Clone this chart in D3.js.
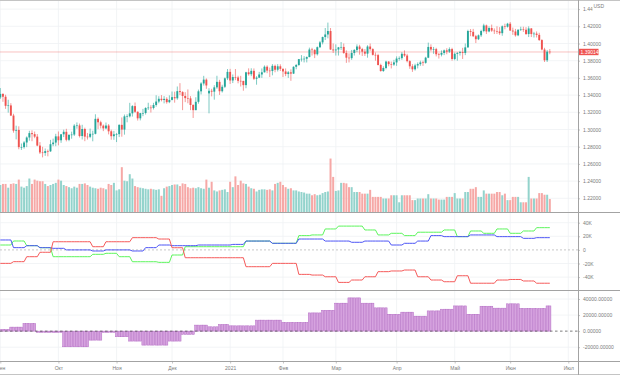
<!DOCTYPE html>
<html><head><meta charset="utf-8">
<script src="https://cdn.jsdelivr.net/npm/d3@7"></script>
<style>html,body{margin:0;padding:0;background:#fff;}svg{display:block;font-family:"Liberation Sans",Arial,sans-serif;}</style>
</head><body><svg id="c" width="620" height="375"></svg>
<script>
// ---- DATA (GBP/USD daily, Sep 1 2020 .. Jun 22 2021) ----
const opens=[1.3373,1.3414,1.3381,1.3275,1.3280,1.3162,1.2986,1.2995,1.2795,1.2795,1.2849,1.2907,1.2958,1.2946,1.2917,1.2813,1.2733,1.2727,1.2749,1.2746,1.2829,1.2848,
1.2920,1.2875,1.2944,1.2973,1.2880,1.2937,1.2941,1.3045,1.3047,1.2924,1.3006,1.2917,1.2915,1.2950,1.2950,1.3124,1.3084,1.3045,1.3013,1.3046,1.2979,1.2922,
1.2944,1.2946,1.3054,1.2999,1.3153,1.3153,1.3188,1.3272,1.3206,1.3130,1.3190,1.3192,1.3250,1.3255,1.3250,1.3285,1.3325,1.3357,1.3343,1.3356,1.3318,
1.3344,1.3376,1.3363,1.3446,1.3435,1.3390,1.3365,1.3362,1.3285,1.3225,1.3322,1.3444,1.3535,1.3580,1.3420,1.3450,1.3440,1.3490,1.3554,1.3445,1.3497,1.3595,
1.3670,1.3570,1.3610,1.3605,1.3566,1.3565,1.3516,1.3665,1.3643,1.3682,1.3590,1.3603,1.3640,1.3665,1.3730,1.3685,1.3680,1.3740,1.3695,1.3735,
1.3705,1.3675,1.3645,1.3665,1.3650,1.3729,1.3750,1.3818,1.3822,1.3823,1.3842,1.3930,1.3925,1.3875,1.3957,1.4013,1.4075,1.4105,1.4145,1.3930,
1.3920,1.3930,1.3955,1.3960,1.3890,1.3835,1.3830,1.3890,1.3925,1.3965,1.3935,1.3905,1.3882,1.3965,1.3935,1.3868,1.3865,1.3750,1.3680,1.3715,1.3790,1.3760,1.3755,
1.3780,1.3825,1.3830,1.3880,1.3860,1.3795,1.3735,1.3700,1.3745,1.3760,1.3780,1.3775,1.3835,1.3960,1.3930,1.3935,1.3875,1.3870,1.3890,1.3920,1.3905,1.3935,
1.3820,1.3880,1.3890,1.3900,1.3890,1.3955,1.4145,1.4135,1.4085,1.4050,1.4095,1.4145,1.4210,1.4140,1.4180,1.4150,1.4145,1.4140,1.4120,1.4200,1.4195,
1.4230,1.4150,1.4140,1.4095,1.4160,1.4165,1.4160,1.4110,1.4175,1.4110,1.4115,1.4100,1.4040,1.3930,1.3805,1.3905];
const highs=[1.3482,1.3420,1.3404,1.3346,1.3306,1.3183,1.3044,1.3037,1.2837,1.2865,1.2920,1.2985,1.2990,1.2976,1.2947,1.2853,1.2799,1.2779,1.2767,1.2879,1.2894,1.2950,
1.2977,1.2947,1.2998,1.3008,1.2946,1.2975,1.3062,1.3082,1.3069,1.3055,1.3021,1.2960,1.3011,1.2986,1.3177,1.3140,1.3102,1.3058,1.3081,1.3063,1.2998,1.2984,
1.2960,1.3060,1.3140,1.3174,1.3177,1.3310,1.3283,1.3314,1.3210,1.3193,1.3240,1.3259,1.3311,1.3283,1.3310,1.3398,1.3387,1.3400,1.3388,1.3375,1.3397,
1.3442,1.3440,1.3500,1.3539,1.3446,1.3434,1.3466,1.3388,1.3294,1.3375,1.3464,1.3550,1.3624,1.3594,1.3480,1.3473,1.3515,1.3625,1.3578,1.3520,1.3605,1.3703,
1.3705,1.3640,1.3703,1.3625,1.3624,1.3566,1.3671,1.3711,1.3712,1.3710,1.3620,1.3670,1.3710,1.3745,1.3746,1.3720,1.3760,1.3755,1.3760,1.3758,
1.3711,1.3710,1.3680,1.3700,1.3735,1.3762,1.3820,1.3865,1.3853,1.3850,1.3952,1.3950,1.3935,1.3965,1.4030,1.4080,1.4180,1.4243,1.4180,1.4000,
1.3990,1.3960,1.4017,1.4000,1.3920,1.3885,1.3925,1.3935,1.3990,1.3985,1.3950,1.3935,1.3980,1.4000,1.3945,1.3895,1.3880,1.3765,1.3735,1.3800,1.3795,1.3790,1.3810,
1.3850,1.3850,1.3900,1.3920,1.3880,1.3805,1.3760,1.3765,1.3780,1.3800,1.3800,1.3845,1.4010,1.3990,1.3960,1.3950,1.3890,1.3920,1.3930,1.3945,1.3955,1.3950,
1.3895,1.3900,1.3915,1.3950,1.4000,1.4160,1.4168,1.4170,1.4100,1.4105,1.4160,1.4230,1.4220,1.4200,1.4220,1.4175,1.4200,1.4190,1.4210,1.4230,1.4240,
1.4250,1.4185,1.4170,1.4165,1.4195,1.4195,1.4190,1.4200,1.4180,1.4135,1.4140,1.4125,1.4050,1.3950,1.3925,1.3935];
const lows=[1.3355,1.3322,1.3240,1.3196,1.3156,1.2963,1.2885,1.2770,1.2762,1.2777,1.2795,1.2870,1.2864,1.2899,1.2805,1.2715,1.2676,1.2694,1.2688,1.2740,1.2806,1.2806,
1.2816,1.2845,1.2912,1.2862,1.2864,1.2893,1.2924,1.3009,1.2907,1.2884,1.2864,1.2883,1.2899,1.2863,1.2943,1.3004,1.3012,1.2981,1.3003,1.2943,1.2881,1.2880,
1.2854,1.2912,1.2916,1.2940,1.3084,1.3140,1.3150,1.3192,1.3104,1.3106,1.3155,1.3174,1.3227,1.3197,1.3233,1.3265,1.3305,1.3327,1.3304,1.3300,1.3306,
1.3339,1.3312,1.3346,1.3400,1.3225,1.3318,1.3305,1.3225,1.3134,1.3224,1.3300,1.3408,1.3511,1.3473,1.3188,1.3385,1.3347,1.3473,1.3402,1.3430,1.3482,1.3575,
1.3530,1.3540,1.3574,1.3537,1.3500,1.3451,1.3480,1.3626,1.3620,1.3575,1.3521,1.3598,1.3600,1.3663,1.3655,1.3610,1.3630,1.3665,1.3675,1.3680,
1.3610,1.3620,1.3600,1.3566,1.3645,1.3700,1.3740,1.3790,1.3780,1.3780,1.3840,1.3860,1.3830,1.3860,1.3947,1.3990,1.4040,1.4060,1.3925,1.3890,
1.3860,1.3860,1.3925,1.3880,1.3775,1.3780,1.3810,1.3860,1.3900,1.3870,1.3855,1.3855,1.3835,1.3915,1.3860,1.3800,1.3745,1.3672,1.3670,1.3700,1.3735,1.3710,1.3740,
1.3740,1.3800,1.3810,1.3845,1.3780,1.3705,1.3670,1.3685,1.3710,1.3740,1.3740,1.3765,1.3830,1.3910,1.3880,1.3850,1.3825,1.3850,1.3865,1.3875,1.3890,1.3800,
1.3805,1.3800,1.3860,1.3820,1.3865,1.3950,1.4085,1.4075,1.4005,1.4040,1.4075,1.4130,1.4110,1.4130,1.4135,1.4110,1.4110,1.4100,1.4090,1.4165,1.4185,
1.4150,1.4100,1.4080,1.4085,1.4145,1.4135,1.4100,1.4075,1.4075,1.4070,1.4070,1.4030,1.3920,1.3785,1.3785,1.3875];
const closes=[1.3414,1.3381,1.3275,1.3280,1.3162,1.2986,1.2995,1.2795,1.2795,1.2849,1.2907,1.2958,1.2946,1.2917,1.2813,1.2733,1.2727,1.2749,1.2746,1.2829,1.2848,1.2920,
1.2875,1.2944,1.2973,1.2880,1.2937,1.2941,1.3045,1.3047,1.2924,1.3006,1.2917,1.2915,1.2950,1.2950,1.3124,1.3084,1.3045,1.3013,1.3046,1.2979,1.2922,1.2944,
1.2946,1.3054,1.2999,1.3153,1.3153,1.3188,1.3272,1.3206,1.3130,1.3190,1.3192,1.3250,1.3255,1.3250,1.3285,1.3325,1.3357,1.3343,1.3356,1.3318,1.3344,
1.3376,1.3363,1.3446,1.3435,1.3390,1.3365,1.3362,1.3285,1.3225,1.3322,1.3444,1.3535,1.3580,1.3512,1.3450,1.3440,1.3490,1.3554,1.3445,1.3497,1.3595,1.3670,
1.3570,1.3610,1.3605,1.3566,1.3565,1.3516,1.3665,1.3643,1.3682,1.3590,1.3603,1.3640,1.3665,1.3730,1.3685,1.3680,1.3740,1.3695,1.3735,1.3705,
1.3675,1.3645,1.3665,1.3650,1.3729,1.3750,1.3818,1.3822,1.3823,1.3842,1.3930,1.3925,1.3875,1.3957,1.4013,1.4075,1.4105,1.4145,1.3930,1.3920,
1.3930,1.3955,1.3960,1.3890,1.3835,1.3830,1.3890,1.3925,1.3965,1.3935,1.3905,1.3882,1.3965,1.3935,1.3868,1.3865,1.3750,1.3680,1.3715,1.3790,1.3760,1.3755,1.3780,
1.3825,1.3830,1.3880,1.3860,1.3795,1.3735,1.3700,1.3745,1.3760,1.3780,1.3775,1.3835,1.3960,1.3930,1.3935,1.3875,1.3870,1.3890,1.3920,1.3905,1.3935,1.3820,
1.3880,1.3890,1.3900,1.3890,1.3955,1.4145,1.4135,1.4085,1.4050,1.4095,1.4145,1.4210,1.4140,1.4180,1.4150,1.4145,1.4140,1.4120,1.4200,1.4195,1.4230,
1.4150,1.4140,1.4095,1.4160,1.4165,1.4160,1.4110,1.4175,1.4110,1.4115,1.4100,1.4040,1.3930,1.3805,1.3905,1.39014];
const volumes=[50,52,52,45,52,53,52,60,47,45,48,62,52,60,58,57,57,52,48,50,52,54,
60,58,50,48,46,44,47,45,52,52,53,50,47,45,44,43,45,44,42,52,50,54,
40,42,83,58,57,70,62,48,46,45,44,43,42,43,42,41,42,30,44,47,48,
50,51,51,48,53,52,46,44,45,44,46,44,43,60,45,56,40,38,40,41,42,37,
56,46,66,50,58,53,52,47,44,43,38,41,42,42,41,42,40,52,54,56,
50,46,43,44,40,40,38,37,36,34,34,31,33,31,32,35,37,38,99,65,
39,40,54,54,53,46,46,37,37,37,34,34,34,41,28,28,28,28,25,25,25,31,31,
31,18,31,31,31,31,22,22,25,25,25,25,33,25,25,25,23,23,23,28,28,28,
35,25,25,25,37,37,43,43,46,28,28,40,34,34,34,34,37,37,31,34,22,
22,28,28,28,18,18,18,65,25,25,25,35,35,32,32,24];
const lastPrice=1.39014;
// weekly COT positions (thousands of contracts), one per week from Sep 1 2020
const cotGreen=[7.2,13.1,6.2,3.2,-10,-10,-10,-6.5,-5,-10,-17.4,-17.4,-18.3,-7.5,4.7,4.7,4.7,4.7,4.7,13,13,9.7,9.7,21,22,30.8,35,35,29.3,22,24.4,21,26,26,29.3,19.5,27.8,24.4,30.8,24.4,27.8,32.7,32.7];
const cotBlue=[14.6,3.3,6.2,3.3,2.3,0,0,-1.6,0,0,-1.6,3.3,7.2,6.2,6.2,7.2,7.2,7.2,8.1,13,13,9.7,9.7,16,16,13,13,11.2,13,13,7.2,9.7,13,21,19.5,19.5,22,22,19.5,19.5,17,18,18];
const cotRed=[-19.8,-17.3,-10,-3.5,12,12,12,4.7,12,12,18,18,16,3.2,-11.5,-11.5,-11.5,-11.5,-11.5,-24.7,-24.7,-19.8,-19.8,-36,-37,-39.5,-47.8,-44.3,-39.5,-32,-31,-29.6,-39.5,-44.3,-46.8,-38,-49,-49,-44.3,-43.5,-45.7,-49,-49];
// weekly net position histogram (contracts)
const netHist=[2100,5000,9500,-1600,-1600,-19500,-19500,-11200,-1600,-7000,-12400,-17400,-17400,-12400,-4100,7500,5400,8300,6600,6600,13700,13700,10800,10800,22700,26000,34800,41400,34800,29000,21000,23600,18600,25200,27300,31400,21000,31000,28600,34000,28200,28200,31400];
const monthLabels=["Сен","Окт","Ноя","Дек","2021","Фев","Мар","Апр","Май","Июн","Июл"];
const monthStartIdx=[0,22,44,65,87,107,127,150,172,193,215];
const priceTicks=[1.22,1.24,1.26,1.28,1.30,1.32,1.34,1.36,1.38,1.40,1.42,1.44];
const cotTicks=[-40,-20,0,20,40];
const histTicks=[-20000,0,20000,40000];

// ---- calendar of trading days ----
const holidays=["2020-12-25","2021-01-01"];
const dates=[];
for(let d=new Date(Date.UTC(2020,8,1)); d<=new Date(Date.UTC(2021,5,22)); d.setUTCDate(d.getUTCDate()+1)){
  const w=d.getUTCDay(); if(w===0||w===6) continue;
  if(holidays.includes(d.toISOString().slice(0,10))) continue;
  dates.push(new Date(d));
}
const DAY=864e5, t0=Date.UTC(2020,8,1), t0m=Date.UTC(2020,7,31);
const bars=dates.map((d,i)=>({i,o:opens[i],h:highs[i],l:lows[i],c:closes[i],v:volumes[i],
  wl:Math.floor((d-t0)/(7*DAY)), wh:Math.floor((d-t0m)/(7*DAY))}));

// ---- scales ----
const svg=d3.select("#c");
const plotR=578;
const x=d3.scaleLinear().domain([0,215]).range([0.3,568.3]);
const yP=d3.scaleLinear().domain([1.22,1.44]).range([198.3,9.1]);
const yV=d3.scaleLinear().domain([0,100]).range([212,158]);
const yC=d3.scaleLinear().domain([-40,40]).range([277.1,222.7]);
const yH=d3.scaleLinear().domain([-20000,40000]).range([347.2,299]);
const grid="#eff1f4", txt="#7b7b7b", sep="#a3a3a3";

const defs=svg.append("defs");
defs.append("clipPath").attr("id","cp").append("rect").attr("x",0).attr("y",0).attr("width",plotR).attr("height",212);
defs.append("clipPath").attr("id","cc").append("rect").attr("x",0).attr("y",212).attr("width",plotR).attr("height",78);
defs.append("clipPath").attr("id","ch").append("rect").attr("x",0).attr("y",290).attr("width",plotR).attr("height",72);

// grid
const g=svg.append("g");
g.selectAll(".vg").data(monthStartIdx).join("line").attr("x1",d=>x(d)).attr("x2",d=>x(d)).attr("y1",0).attr("y2",362).attr("stroke",grid).attr("stroke-width",0.8);
g.selectAll(".hp").data(priceTicks).join("line").attr("x1",0).attr("x2",plotR).attr("y1",d=>yP(d)).attr("y2",d=>yP(d)).attr("stroke",grid).attr("stroke-width",0.8);
g.selectAll(".hc").data(cotTicks.filter(d=>d!==0)).join("line").attr("x1",0).attr("x2",plotR).attr("y1",d=>yC(d)).attr("y2",d=>yC(d)).attr("stroke",grid).attr("stroke-width",0.8);
g.selectAll(".hh").data(histTicks.filter(d=>d!==0)).join("line").attr("x1",0).attr("x2",plotR).attr("y1",d=>yH(d)).attr("y2",d=>yH(d)).attr("stroke",grid).attr("stroke-width",0.8);

// volume
const pg=svg.append("g").attr("clip-path","url(#cp)");
pg.selectAll(".vol").data(bars).join("rect")
  .attr("x",d=>x(d.i)-1.0).attr("width",2.0)
  .attr("y",d=>yV(d.v)).attr("height",d=>yV(0)-yV(d.v))
  .attr("fill",d=>d.c>=d.o?"#93d3cc":"#f6a8a6");
// last price line
pg.append("line").attr("x1",0).attr("x2",plotR).attr("y1",yP(lastPrice)).attr("y2",yP(lastPrice))
  .attr("stroke","#ef5350").attr("stroke-opacity",0.5).attr("stroke-width",0.7);
// candles
const cg=pg.selectAll(".cd").data(bars).join("g");
cg.append("line").attr("x1",d=>x(d.i)).attr("x2",d=>x(d.i)).attr("y1",d=>yP(d.h)).attr("y2",d=>yP(d.l))
  .attr("stroke",d=>d.c>=d.o?"#26a69a":"#ef5350").attr("stroke-width",0.6);
cg.append("rect").attr("x",d=>x(d.i)-0.95).attr("width",1.9)
  .attr("y",d=>Math.min(yP(d.o),yP(d.c))).attr("height",d=>Math.max(0.6,Math.abs(yP(d.o)-yP(d.c))))
  .attr("fill",d=>d.c>=d.o?"#26a69a":"#ef5350");

// COT lines
const lg=svg.append("g").attr("clip-path","url(#cc)");
lg.append("line").attr("x1",0).attr("x2",plotR).attr("y1",yC(0)).attr("y2",yC(0)).attr("stroke","#b0b0b0").attr("stroke-width",0.7).attr("stroke-dasharray","2,2");
[[cotGreen,"#5cf55c"],[cotBlue,"#4d55f5"],[cotRed,"#f55a5a"]].forEach(([arr,col])=>{
  const ln=d3.line().x(d=>x(d.i)).y(d=>yC(arr[d.wl]));
  lg.append("path").datum(bars).attr("d",ln).attr("fill","none").attr("stroke",col).attr("stroke-width",1);
});

// histogram
const hg=svg.append("g").attr("clip-path","url(#ch)");
hg.selectAll(".hb").data(bars).join("rect")
  .attr("x",d=>x(d.i)-1.1).attr("width",2.2)
  .attr("y",d=>Math.min(yH(0),yH(netHist[d.wh]))).attr("height",d=>Math.abs(yH(netHist[d.wh])-yH(0)))
  .attr("fill","#d6a3df").attr("stroke","#b46cc4").attr("stroke-width",0.5);
hg.append("line").attr("x1",0).attr("x2",plotR).attr("y1",yH(0)).attr("y2",yH(0)).attr("stroke","#444").attr("stroke-width",0.7).attr("stroke-dasharray","2.5,2.5");

// separators / frame
const fr=svg.append("g");
[0.5,374.5].forEach(y=>fr.append("line").attr("x1",0).attr("x2",620).attr("y1",y).attr("y2",y).attr("stroke","#c4c4c4").attr("stroke-width",1));
[212.5,290.5,361.5].forEach(y=>fr.append("line").attr("x1",0).attr("x2",620).attr("y1",y).attr("y2",y).attr("stroke",sep).attr("stroke-width",1));
fr.append("line").attr("x1",plotR+0.5).attr("x2",plotR+0.5).attr("y1",0).attr("y2",375).attr("stroke",sep).attr("stroke-width",1);

// axes
function styleAxis(sel){
  sel.select(".domain").remove();
  sel.selectAll(".tick line").attr("stroke","#a0a0a0").attr("stroke-width",0.6);
  sel.selectAll(".tick text").attr("fill",txt).attr("font-size","5px").attr("font-family","Liberation Sans, Arial, sans-serif");
}
defs.append("clipPath").attr("id","cu").append("rect").attr("x",578).attr("y",0).attr("width",14.6).attr("height",13);
const pAx=svg.append("g").attr("transform",`translate(${plotR},0)`)
  .call(d3.axisRight(yP).tickValues(priceTicks).tickFormat(d=>d.toFixed(5)).tickSize(2).tickPadding(3)).call(styleAxis);
// top price label is partly hidden by the currency badge
pAx.selectAll(".tick").filter(d=>d===1.44).select("text").attr("clip-path","url(#cuLocal)");
pAx.append("clipPath").attr("id","cuLocal").append("rect").attr("x",0).attr("y",-10).attr("width",14.6).attr("height",20);
svg.append("g").attr("transform",`translate(${plotR},0)`)
  .call(d3.axisRight(yC).tickValues(cotTicks).tickFormat(d=>d===0?"0":d+"K").tickSize(2).tickPadding(3)).call(styleAxis);
svg.append("g").attr("transform",`translate(${plotR},0)`)
  .call(d3.axisRight(yH).tickValues(histTicks).tickFormat(d=>d.toFixed(5)).tickSize(2).tickPadding(3)).call(styleAxis);
svg.append("g").attr("transform","translate(0,361.5)")
  .call(d3.axisBottom(x).tickValues(monthStartIdx).tickFormat((d,i)=>monthLabels[i]).tickSize(2).tickPadding(2.5)).call(styleAxis);

// currency label
svg.append("text").attr("x",593.5).attr("y",8.3).attr("font-size","5px").attr("fill",txt).text("USD");
// last price label
svg.append("rect").attr("x",579).attr("y",yP(lastPrice)-3.2).attr("width",19.5).attr("height",6.4).attr("fill","#ef5350");
svg.append("text").attr("x",580.5).attr("y",yP(lastPrice)+1.8).attr("font-size","5px").attr("fill","#fff").text(lastPrice.toFixed(5));
</script></body></html>
